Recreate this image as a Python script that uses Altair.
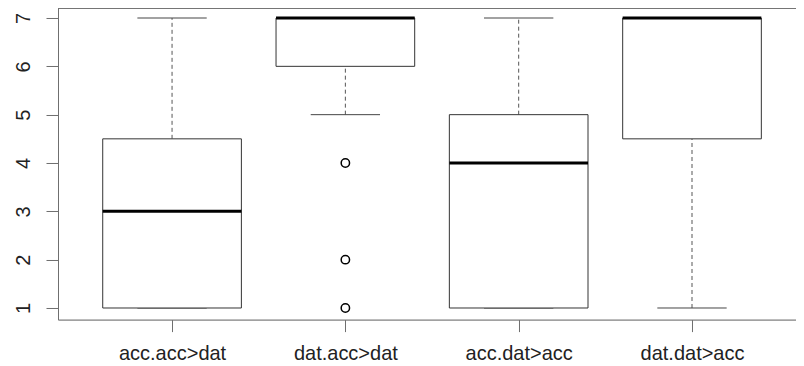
import json
import altair as alt
import pandas as pd

groups = ["acc.acc>dat", "dat.acc>dat", "acc.dat>acc", "dat.dat>acc"]
whisker_low = [1, 5, 1, 1]
q1 = [1, 6, 1, 4.5]
median = [3, 7, 4, 7]
q3 = [4.5, 7, 5, 7]
whisker_high = [7, 7, 7, 7]
outlier_group = [2, 2, 2]
outlier_value = [4, 2, 1]

stats = pd.DataFrame({
    "pos": list(range(1, len(groups) + 1)),
    "group": groups,
    "lo": whisker_low,
    "q1": q1,
    "med": median,
    "q3": q3,
    "hi": whisker_high,
})
outliers = pd.DataFrame({"pos": outlier_group, "value": outlier_value})

W, H = 738, 311.6
xscale = alt.Scale(domain=[0.342, 4.600], nice=False, zero=False)
yscale = alt.Scale(domain=[0.76, 7.207], nice=False, zero=False)

label_expr = json.dumps(groups) + "[datum.value - 1]"
FONT = "Liberation Sans"
FRAME = "#6e6e6e"

x_axis = alt.Axis(values=[1, 2, 3, 4], labelExpr=label_expr, title=None, grid=False,
                  domainColor=FRAME, tickColor=FRAME, tickSize=12, labelFontSize=20,
                  labelFont=FONT, labelColor="#222222", labelPadding=12)
y_axis = alt.Axis(values=[1, 2, 3, 4, 5, 6, 7], title=None, grid=False,
                  domainColor=FRAME, tickColor=FRAME, tickSize=12, labelFontSize=20,
                  labelFont=FONT, labelColor="#222222", labelAngle=270,
                  labelAlign="center", labelBaseline="alphabetic", labelPadding=17)


def X(field):
    return alt.X(field, scale=xscale, axis=x_axis, title=None)


def Y(field):
    return alt.Y(field, scale=yscale, axis=y_axis, title=None)


base = alt.Chart(stats).transform_calculate(
    bl="datum.pos - 0.4", br="datum.pos + 0.4",
    cl="datum.pos - 0.2", cr="datum.pos + 0.2",
)

whisk_lo = base.mark_rule(color="#555555", strokeDash=[4, 3], strokeWidth=1).encode(
    x=X("pos:Q"), y=Y("lo:Q"), y2="q1:Q",
)
whisk_hi = base.mark_rule(color="#555555", strokeDash=[4, 3], strokeWidth=1).encode(
    x=X("pos:Q"), y=Y("q3:Q"), y2="hi:Q",
)
cap_lo = base.mark_rule(color="#444444", strokeWidth=1).encode(
    x=X("cl:Q"), x2="cr:Q", y=Y("lo:Q"),
)
cap_hi = base.mark_rule(color="#444444", strokeWidth=1).encode(
    x=X("cl:Q"), x2="cr:Q", y=Y("hi:Q"),
)
box = base.mark_rect(fill="white", stroke="#333333", strokeWidth=1).encode(
    x=X("bl:Q"), x2="br:Q", y=Y("q1:Q"), y2="q3:Q",
)
med = base.mark_rule(color="black", strokeWidth=3).encode(
    x=X("bl:Q"), x2="br:Q", y=Y("med:Q"),
)
pts = alt.Chart(outliers).mark_point(shape="circle", size=70, filled=False,
                                     color="black", strokeWidth=1.5, opacity=1).encode(
    x=X("pos:Q"), y=Y("value:Q"),
)
top = alt.Chart(stats).mark_rule(color=FRAME, strokeWidth=1).encode(
    x=alt.value(0), x2=alt.value(W), y=alt.value(0)
)

chart = alt.layer(whisk_lo, whisk_hi, cap_lo, cap_hi, box, med, pts, top).properties(
    width=W, height=H,
    autosize=alt.AutoSizeParams(type="none"),
    padding={"left": 50, "top": 0, "right": 0, "bottom": 45},
).configure_view(stroke=None).configure(background="white")

chart.save("out.html", embed_options={"renderer": "svg", "actions": False})
